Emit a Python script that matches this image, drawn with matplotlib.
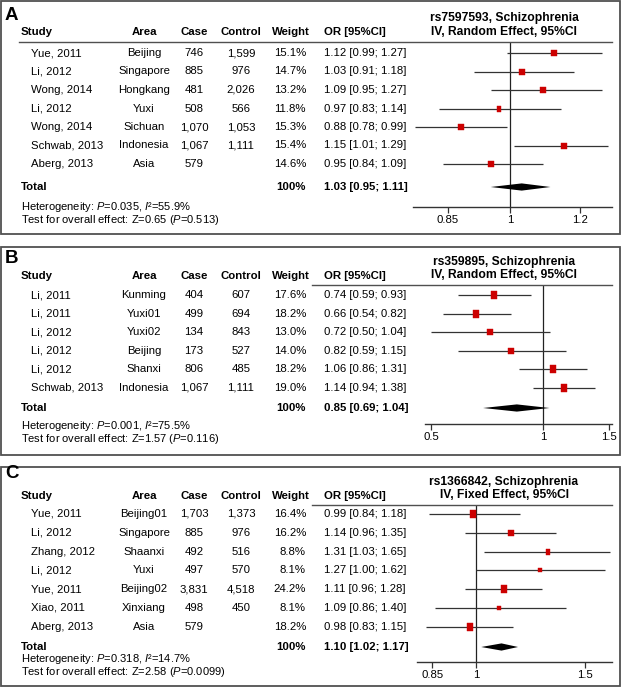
import numpy as np
import matplotlib
matplotlib.use("Agg")
import matplotlib.pyplot as plt
from matplotlib.patches import Rectangle
from matplotlib.lines import Line2D
from matplotlib.path import Path
from matplotlib.ticker import FixedLocator, FixedFormatter, NullLocator

plt.rcParams["font.family"] = ["Liberation Sans", "DejaVu Sans"]
plt.rcParams["mathtext.fontset"] = "custom"
plt.rcParams["mathtext.rm"] = "Liberation Sans"
plt.rcParams["mathtext.it"] = "Liberation Sans:italic"
plt.rcParams["mathtext.bf"] = "Liberation Sans:bold"

# ---- panel A: rs7597593 ----
a_study = ["Yue, 2011", "Li, 2012", "Wong, 2014", "Li, 2012", "Wong, 2014", "Schwab, 2013", "Aberg, 2013"]
a_area = ["Beijing", "Singapore", "Hongkang", "Yuxi", "Sichuan", "Indonesia", "Asia"]
a_case = ["746", "885", "481", "508", "1,070", "1,067", "579"]
a_control = ["1,599", "976", "2,026", "566", "1,053", "1,111", ""]
a_weight = [15.1, 14.7, 13.2, 11.8, 15.3, 15.4, 14.6]
a_or = [1.12, 1.03, 1.09, 0.97, 0.88, 1.15, 0.95]
a_lo = [0.99, 0.91, 0.95, 0.83, 0.78, 1.01, 0.84]
a_hi = [1.27, 1.18, 1.27, 1.14, 0.99, 1.29, 1.09]
a_total = (1.03, 0.95, 1.11)
a_het = ("0.035", "55.9%")
a_test = ("0.65", "0.513")
a_title = ["rs7597593, Schizophrenia", "IV, Random Effect, 95%CI"]
a_ticks = [0.85, 1, 1.2]
a_ticklabels = ["0.85", "1", "1.2"]

# ---- panel B: rs359895 ----
b_study = ["Li, 2011", "Li, 2011", "Li, 2012", "Li, 2012", "Li, 2012", "Schwab, 2013"]
b_area = ["Kunming", "Yuxi01", "Yuxi02", "Beijing", "Shanxi", "Indonesia"]
b_case = ["404", "499", "134", "173", "806", "1,067"]
b_control = ["607", "694", "843", "527", "485", "1,111"]
b_weight = [17.6, 18.2, 13.0, 14.0, 18.2, 19.0]
b_or = [0.74, 0.66, 0.72, 0.82, 1.06, 1.14]
b_lo = [0.59, 0.54, 0.50, 0.59, 0.86, 0.94]
b_hi = [0.93, 0.82, 1.04, 1.15, 1.31, 1.38]
b_total = (0.85, 0.69, 1.04)
b_het = ("0.001", "75.5%")
b_test = ("1.57", "0.116")
b_title = ["rs359895, Schizophrenia", "IV, Random Effect, 95%CI"]
b_ticks = [0.5, 1, 1.5]
b_ticklabels = ["0.5", "1", "1.5"]

# ---- panel C: rs1366842 ----
c_study = ["Yue, 2011", "Li, 2012", "Zhang, 2012", "Li, 2012", "Yue, 2011", "Xiao, 2011", "Aberg, 2013"]
c_area = ["Beijing01", "Singapore", "Shaanxi", "Yuxi", "Beijing02", "Xinxiang", "Asia"]
c_case = ["1,703", "885", "492", "497", "3,831", "498", "579"]
c_control = ["1,373", "976", "516", "570", "4,518", "450", ""]
c_weight = [16.4, 16.2, 8.8, 8.1, 24.2, 8.1, 18.2]
c_or = [0.99, 1.14, 1.31, 1.27, 1.11, 1.09, 0.98]
c_lo = [0.84, 0.96, 1.03, 1.00, 0.96, 0.86, 0.83]
c_hi = [1.18, 1.35, 1.65, 1.62, 1.28, 1.40, 1.15]
c_total = (1.10, 1.02, 1.17)
c_het = ("0.318", "14.7%")
c_test = ("2.58", "0.0099")
c_title = ["rs1366842, Schizophrenia", "IV, Fixed Effect, 95%CI"]
c_ticks = [0.85, 1, 1.5]
c_ticklabels = ["0.85", "1", "1.5"]

W, H = 623, 691
FS = 8.2
fig = plt.figure(figsize=(W / 100, H / 100), dpi=100)


def fx(x):
    return x / W


def fy(y):
    return 1 - y / H


def txt(x, y, s, **kw):
    kw.setdefault("fontsize", FS)
    kw.setdefault("va", "center")
    fig.text(fx(x), fy(y), s, **kw)


# slightly tall box used for the study weights
box = Path([(-0.4, -0.5), (0.4, -0.5), (0.4, 0.5), (-0.4, 0.5), (-0.4, -0.5)],
           [Path.MOVETO, Path.LINETO, Path.LINETO, Path.LINETO, Path.CLOSEPOLY])


def draw_panel(label, study, area, case, control, weight, orv, lo, hi, total,
               het, test, title, ticks, ticklabels, lay):
    top, bot = lay["frame"]
    fig.add_artist(Rectangle((fx(1), fy(bot)), fx(620) - fx(1), (bot - top) / H,
                             transform=fig.transFigure, fill=False,
                             ec="#505050", lw=1.3))
    txt(5, lay["label"], label, fontsize=13.5, fontweight="bold")

    hy = lay["head"]
    txt(21, hy, "Study", fontweight="bold")
    txt(144, hy, "Area", fontweight="bold", ha="center")
    txt(194, hy, "Case", fontweight="bold", ha="center")
    txt(241, hy, "Control", fontweight="bold", ha="center")
    txt(291, hy, "Weight", fontweight="bold", ha="center")
    txt(324, hy, "OR [95%CI]", fontweight="bold")
    txt(504, lay["title"][0], title[0], fontsize=8.7, fontweight="bold", ha="center")
    txt(504, lay["title"][1], title[1], fontsize=8.7, fontweight="bold", ha="center")

    hl = lay["hline"]
    fig.add_artist(Line2D([fx(lay["hline_x0"]), fx(612)], [fy(hl), fy(hl)],
                          transform=fig.transFigure, color="#505050", lw=1.0))

    rows = [lay["row0"] + i * lay["step"] for i in range(len(study))]
    for i, y in enumerate(rows):
        txt(31, y, study[i])
        txt(144, y, area[i], ha="center")
        txt(194, y, case[i], ha="center")
        txt(241, y, control[i], ha="center")
        txt(306, y, f"{weight[i]:.1f}%", ha="right")
        txt(324, y, f"{orv[i]:.2f} [{lo[i]:.2f}; {hi[i]:.2f}]")

    ty = lay["total"]
    txt(21, ty, "Total", fontweight="bold")
    txt(306, ty, "100%", fontweight="bold", ha="right")
    txt(324, ty, f"{total[0]:.2f} [{total[1]:.2f}; {total[2]:.2f}]", fontweight="bold")
    txt(21, lay["het"], r"Heterogeneity: $\mathit{P}$=" + het[0] + r", $\mathit{I}$²=" + het[1],
        fontsize=8.0)
    txt(21, lay["test"], "Test for overall effect: Z=" + test[0] + r" ($\mathit{P}$=" + test[1] + ")",
        fontsize=8.0)

    # forest part: y data in pixel rows from the top
    ay = lay["axis"]
    ax = fig.add_axes([fx(lay["ax_x0"]), fy(ay), fx(612) - fx(lay["ax_x0"]), (ay - hl) / H])
    ax.set_xscale("log")
    ax.set_xlim(*lay["xlim"])
    ax.set_ylim(ay, hl)
    ax.patch.set_visible(False)
    for s in ["left", "right", "top"]:
        ax.spines[s].set_visible(False)
    ax.spines["bottom"].set_color("#333333")
    ax.spines["bottom"].set_linewidth(1.0)
    ax.set_yticks([])
    ax.xaxis.set_major_locator(FixedLocator(ticks))
    ax.xaxis.set_major_formatter(FixedFormatter(ticklabels))
    ax.xaxis.set_minor_locator(NullLocator())
    ax.tick_params(axis="x", direction="out", length=4.5, width=0.9, pad=1.5,
                   labelsize=FS, color="#333333")
    ax.axvline(1, color="#222222", lw=0.9)

    for i, y in enumerate(rows):
        ax.hlines(y, lo[i], hi[i], color="#333333", lw=0.9, clip_on=False)
        ax.plot([orv[i]], [y], marker=box, ms=1.25 * np.sqrt(weight[i]),
                color="#cc0000", mec="#cc0000", mew=0.3, zorder=3, clip_on=False)

    hd = 3.6
    ax.fill([total[1], total[0], total[2], total[0]], [ty, ty - hd, ty, ty + hd],
            color="black", lw=0, zorder=3)


draw_panel("A", a_study, a_area, a_case, a_control, a_weight, a_or, a_lo, a_hi,
           a_total, a_het, a_test, a_title, a_ticks, a_ticklabels,
           dict(frame=(1, 234), label=15, head=32, title=(18, 32), hline=42, hline_x0=19,
                row0=53, step=18.5, total=187, het=207, test=220, axis=207,
                ax_x0=413, xlim=(0.776, 1.303)))

draw_panel("B", b_study, b_area, b_case, b_control, b_weight, b_or, b_lo, b_hi,
           b_total, b_het, b_test, b_title, b_ticks, b_ticklabels,
           dict(frame=(247, 455), label=259, head=276, title=(262, 275), hline=285, hline_x0=312,
                row0=295, step=18.6, total=408, het=426, test=439, axis=424,
                ax_x0=425, xlim=(0.482, 1.53)))

draw_panel("C", c_study, c_area, c_case, c_control, c_weight, c_or, c_lo, c_hi,
           c_total, c_het, c_test, c_title, c_ticks, c_ticklabels,
           dict(frame=(467, 686), label=474, head=496, title=(482, 495), hline=505, hline_x0=312,
                row0=514, step=18.8, total=647, het=659, test=672, axis=662,
                ax_x0=417, xlim=(0.803, 1.66)))

fig.savefig("out.png", dpi=100)
